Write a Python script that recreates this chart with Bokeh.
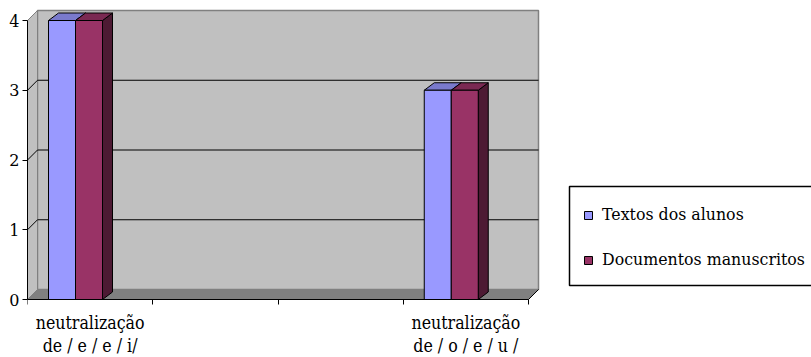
from bokeh.plotting import figure
from bokeh.models import Range1d, FixedTicker, Legend, LegendItem, ColumnDataSource
from bokeh.embed import file_html
from bokeh.resources import INLINE

# ---------------- data ----------------
categories = ["neutralização\nde / e / e / i/", "", "", "neutralização\nde / o / e / u /"]
textos_dos_alunos = [4, None, None, 3]
documentos_manuscritos = [4, None, None, 3]
series_names = ["Textos dos alunos", "Documentos manuscritos"]
y_ticks = [0, 1, 2, 3, 4]

# ---------------- style ----------------
FONT_X = "DejaVu Serif Condensed"
FONT_Y = "DejaVu Serif"
FONT_L = "DejaVu Serif"
PX_X = 125.25          # pixels per category slot
PX_Y = 69.75           # pixels per value unit
WALL_DX, WALL_DY = 10 / PX_X, 10 / PX_Y
BAR_DX, BAR_DY = 10 / PX_X, 7.5 / PX_Y
BAR_W = 27 / PX_X
BAR_OFF = 21 / PX_X
WALL = "#C0C0C0"
FLOOR = "#808080"
EDGE = "#808080"
BLUE, BLUE_TOP, BLUE_SIDE = "#9999FF", "#7A7ACC", "#4D4D80"
RED, RED_TOP, RED_SIDE = "#993366", "#7A2952", "#4D1A33"

n = len(categories)
ymax = max(y_ticks)

W, H = 811, 357
BL = 27                 # frame left (y axis position)
Y0 = 299                # pixel row of value 0
p = figure(width=W, height=H, output_backend="svg", toolbar_location=None,
           x_range=Range1d(0, (W - BL) / PX_X),
           y_range=Range1d(-(H - Y0) / PX_Y, Y0 / PX_Y),
           min_border_left=BL, min_border_right=0, min_border_top=0, min_border_bottom=0)
p.outline_line_color = None
p.background_fill_color = "white"
p.border_fill_color = "white"
p.xgrid.visible = False
p.ygrid.visible = False

# ---------------- walls ----------------
p.quad(left=WALL_DX, right=n + WALL_DX, bottom=WALL_DY, top=ymax + WALL_DY,
       fill_color=WALL, line_color=EDGE, line_width=1.5)
p.patch(x=[0, WALL_DX, WALL_DX, 0], y=[0, WALL_DY, ymax + WALL_DY, ymax],
        fill_color=WALL, line_color=EDGE, line_width=1)
p.patch(x=[0, n, n + WALL_DX, WALL_DX], y=[0, 0, WALL_DY, WALL_DY],
        fill_color=FLOOR, line_color=EDGE, line_width=1)
gx, gy = [], []
for v in y_ticks[1:-1]:
    gx.append([0, WALL_DX, n + WALL_DX])
    gy.append([v, v + WALL_DY, v + WALL_DY])
p.multi_line(xs=gx, ys=gy, line_color="black", line_width=1)
p.line(x=[n, n + WALL_DX], y=[0, WALL_DY], line_color="black", line_width=1)

# ---------------- bars ----------------
def bars(values, k, front, top, side):
    idx = [i for i, v in enumerate(values) if v is not None]
    vals = [values[i] for i in idx]
    lefts = [i + BAR_OFF + k * BAR_W for i in idx]
    rights = [l + BAR_W for l in lefts]
    src = ColumnDataSource(dict(left=lefts, right=rights, top=vals, bottom=[0] * len(vals)))
    p.patches(xs=[[r, r + BAR_DX, r + BAR_DX, r] for r in rights],
              ys=[[0, BAR_DY, v + BAR_DY, v] for v in vals],
              fill_color=side, line_color="black", line_width=1)
    p.patches(xs=[[l, r, r + BAR_DX, l + BAR_DX] for l, r in zip(lefts, rights)],
              ys=[[v, v, v + BAR_DY, v + BAR_DY] for v in vals],
              fill_color=top, line_color="black", line_width=1)
    return p.quad(left="left", right="right", top="top", bottom="bottom", source=src,
                  fill_color=front, line_color="black", line_width=1)

r_blue = bars(textos_dos_alunos, 0, BLUE, BLUE_TOP, BLUE_SIDE)
r_red = bars(documentos_manuscritos, 1, RED, RED_TOP, RED_SIDE)

# ---------------- legend box (extends past the right edge) ----------------
p.quad(left=(569 - BL) / PX_X, right=(W + 10 - BL) / PX_X,
       top=(Y0 - 186) / PX_Y, bottom=(Y0 - 285) / PX_Y,
       fill_color="white", line_color="black", line_width=1.5)

# ---------------- axes ----------------
ya = p.yaxis[0]
ya.ticker = FixedTicker(ticks=y_ticks)
ya.bounds = (0, ymax)
ya.axis_line_color = "black"
ya.major_tick_in = 0
ya.major_tick_out = 5
ya.minor_tick_out = 0
ya.major_tick_line_color = "black"
ya.major_label_standoff = 3
ya.major_label_text_font = FONT_Y
ya.major_label_text_font_size = "16px"
ya.major_label_text_color = "black"

xa = p.xaxis[0]
label_pos = [i + 0.5 for i, c in enumerate(categories) if c]
xa.ticker = FixedTicker(ticks=label_pos, minor_ticks=list(range(n + 1)))
xa.major_label_overrides = {i + 0.5: c for i, c in enumerate(categories) if c}
xa.fixed_location = 0
xa.bounds = (0, n)
xa.axis_line_color = "black"
xa.major_tick_in = 0
xa.major_tick_out = 0
xa.minor_tick_in = 0
xa.minor_tick_out = 5
xa.minor_tick_line_color = "black"
xa.major_label_standoff = 8
xa.major_label_text_font = FONT_X
xa.major_label_text_font_size = "17.6px"
xa.major_label_text_color = "black"
xa.major_label_text_line_height = 1.15

# ---------------- legend ----------------
legend = Legend(items=[LegendItem(label=series_names[0], renderers=[r_blue]),
                       LegendItem(label=series_names[1], renderers=[r_red])],
                location=(569 - BL + 14, H - 285 + 14), margin=0, padding=0, spacing=22,
                glyph_width=10, glyph_height=10, label_height=23, label_standoff=9,
                label_text_font=FONT_L, label_text_font_size="15.8px", label_text_color="black",
                border_line_color=None, background_fill_alpha=0)
p.add_layout(legend)

open("out.html", "w").write(file_html(p, INLINE))
